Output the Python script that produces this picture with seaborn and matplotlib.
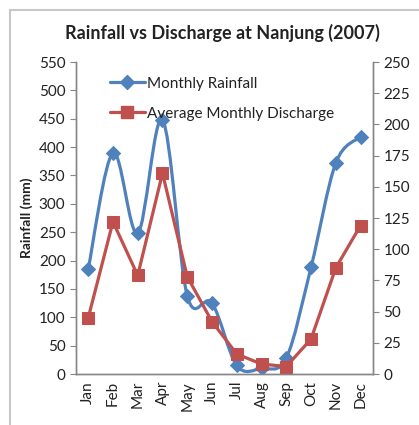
import numpy as np
import pandas as pd
import matplotlib
matplotlib.use("Agg")
import matplotlib.pyplot as plt
from matplotlib.path import Path
from matplotlib.patches import PathPatch, Rectangle
from matplotlib.lines import Line2D
import seaborn as sns

# data
months = ["Jan", "Feb", "Mar", "Apr", "May", "Jun",
          "Jul", "Aug", "Sep", "Oct", "Nov", "Dec"]
rainfall = [185, 390, 248, 448, 138, 125, 15, 10, 28, 188, 372, 418]
discharge = [45, 122, 79, 161, 78, 42, 16, 8, 6, 28, 85, 119]

blue = "#4F81BD"
red = "#C0504D"
grey = "#868686"

sns.set_style("white")
plt.rcParams["font.family"] = ["Lato", "DejaVu Sans"]

df = pd.DataFrame({"month": months, "rainfall": rainfall, "discharge": discharge})

fig = plt.figure(figsize=(4.19, 4.25), dpi=100)
ax = fig.add_axes([0.181, 0.12, 0.709, 0.734])
ax2 = ax.twinx()

# rainfall markers (smooth line added below)
sns.lineplot(data=df, x="month", y="rainfall", ax=ax, color=blue, marker="D",
             markersize=7, markeredgecolor=blue, linestyle="none", zorder=3)

# smoothed line like the Excel "smooth line" option
pts = np.column_stack([np.arange(len(months)), np.array(rainfall, float)])
verts = [pts[0]]
codes = [Path.MOVETO]
for i in range(len(pts) - 1):
    p0 = pts[max(i - 1, 0)]
    p1 = pts[i]
    p2 = pts[i + 1]
    p3 = pts[min(i + 2, len(pts) - 1)]
    verts += [p1 + (p2 - p0) / 6, p2 - (p3 - p1) / 6, p2]
    codes += [Path.CURVE4] * 3
ax.add_patch(PathPatch(Path(verts, codes), fill=False, edgecolor=blue, lw=2.3, zorder=2))

sns.lineplot(data=df, x="month", y="discharge", ax=ax2, color=red, marker="s",
             markersize=8, markeredgecolor=red, lw=2.3)

ax.set_xlim(-0.5, 11.5)
ax.set_ylim(0, 550)
ax2.set_ylim(0, 250)
ax.set_yticks(range(0, 551, 50))
ax2.set_yticks(range(0, 251, 25))

ax.set_xticks(range(12))
ax.set_xticklabels(months, rotation=90, fontsize=11)
ax.set_xticks(np.arange(-0.5, 12, 1), minor=True)
ax.tick_params(axis="x", which="major", length=0, pad=5, labelcolor="#222222")
ax.tick_params(axis="x", which="minor", length=5, color=grey, direction="out")
ax.tick_params(axis="y", length=4, color=grey, direction="out", labelsize=11,
               left=True, labelcolor="#222222")
ax2.tick_params(axis="y", length=4, color=grey, direction="out", labelsize=11,
                right=True, labelcolor="#222222")

ax.set_xlabel("")
ax.set_ylabel("Rainfall (mm)", fontsize=10, fontweight="bold", labelpad=4, color="#222222")
ax2.set_ylabel("")

for a in (ax, ax2):
    a.spines["top"].set_visible(False)
    for s in ("left", "right", "bottom"):
        a.spines[s].set_color(grey)
        a.spines[s].set_linewidth(1)

handles = [
    Line2D([], [], color=blue, lw=2.3, marker="D", markersize=7),
    Line2D([], [], color=red, lw=2.3, marker="s", markersize=8),
]
fig.legend(handles, ["Monthly Rainfall", "Average Monthly Discharge"],
           loc="upper left", bbox_to_anchor=(0.229, 0.852), frameon=False,
           fontsize=11, handlelength=2.3, handletextpad=0.15, labelspacing=1.05,
           labelcolor="#222222")

fig.text(0.53, 0.922, "Rainfall vs Discharge at Nanjung (2007)",
         ha="center", va="center", fontsize=13, fontweight="bold", color="#222222")

fig.patches.append(Rectangle((0.024, -0.1), 1.0, 1.076, transform=fig.transFigure,
                             fill=False, edgecolor="#C8C8C8", lw=1.5))

fig.savefig("out.png", dpi=100)
